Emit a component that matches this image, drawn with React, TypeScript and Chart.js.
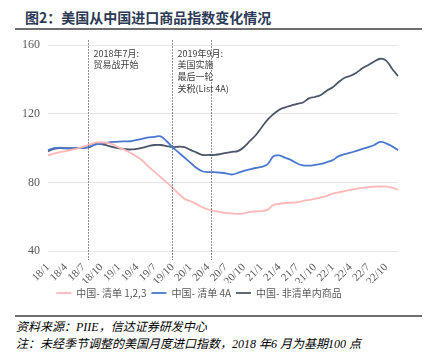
import React, { useEffect, useRef } from "react";
import { Chart, registerables } from "chart.js";

Chart.register(...registerables);

const years = ["18", "19", "20", "21", "22"];
const months = [1, 2, 3, 4, 5, 6, 7, 8, 9, 10, 11, 12];
const categories: string[] = years.flatMap((y) => months.map((m) => `${y}/${m}`));

const list123 = [
  95.7, 96.8, 97.6, 98.2, 99, 99.8, 100.8, 102, 103.2, 103.4, 103, 102,
  100.2, 98.8, 97, 95, 92.5, 89, 86, 83, 80, 77, 73.5, 70.5,
  69, 67.5, 65.5, 64.2, 63.4, 62.7, 62.2, 61.9, 61.6, 62, 62.8, 63.1,
  63.3, 64, 66.9, 67.5, 68, 68.2, 68.4, 69.2, 69.8, 70.4, 71.2, 72.2,
  73.4, 74.2, 74.9, 75.7, 76.3, 76.8, 77.3, 77.5, 77.6, 77.5, 76.9, 75.7,
];
const list4A = [
  98.8, 100, 100.3, 100, 100, 100, 100, 101, 102, 102.6, 103.2, 103.6,
  103.8, 103.9, 104, 104.8, 105.5, 106.2, 106.6, 106.8, 104, 100.5, 97.5, 94.5,
  91.5, 88.5, 86.5, 86, 86, 85.7, 85.3, 84.6, 85.5, 86.7, 87.6, 88.4,
  89, 90.5, 95.3, 95.7, 94.3, 93, 91, 89.9, 89.8, 90.2, 90.8, 91.8,
  93, 95.3, 96.5, 97.3, 98.4, 99.5, 100.6, 101.8, 103.6, 102.8, 101, 98.8,
];
const nonList = [
  98.2, 99.5, 100, 99.8, 99.8, 100, 100.2, 100.5, 102.5, 102.3, 101.5, 100.5,
  99.8, 99.4, 99.2, 99.6, 100.3, 101.2, 101.8, 101.8, 101.2, 100.6, 100.8, 100.6,
  99, 97.5, 96, 96, 96, 96.5, 97.2, 97.8, 98.2, 100.5, 104, 107.5,
  112, 116.5, 119.8, 122.4, 123.8, 124.8, 125.8, 126.6, 129, 129.8, 131, 133.5,
  135.5, 138.5, 141, 142.2, 144, 146.5, 148.5, 150.5, 152.1, 151, 146.3, 142,
];

const seriesNames = ["中国- 清单 1,2,3", "中国- 清单 4A", "中国- 非清单内商品"];
const seriesColors = ["#FFB7B7", "#4A78D0", "#4B5668"];

// event markers (category index positions) and their notes
const eventPositions = [6.7, 20.9, 27.5];
const eventNotes: string[][] = [
  ["2018年7月:", "贸易战开始"],
  ["2019年9月:", "美国实施", "最后一轮", "关税(List 4A)"],
  [],
];

const yTicks = [40, 80, 120, 160];

const eventPlugin = {
  id: "events",
  afterDatasetsDraw(chart: any) {
    const { ctx, chartArea, scales } = chart;
    ctx.save();
    eventPositions.forEach((pos, i) => {
      const x = Math.round(scales.x.getPixelForValue(pos)) + 0.5;
      ctx.beginPath();
      ctx.setLineDash([1.5, 1.5]);
      ctx.strokeStyle = "#6b6b6b";
      ctx.lineWidth = 1;
      ctx.moveTo(x, chartArea.top - 5);
      ctx.lineTo(x, chartArea.bottom + 9);
      ctx.stroke();
      ctx.setLineDash([]);
      ctx.fillStyle = "#404040";
      ctx.font = '9px "Noto Sans CJK SC"';
      ctx.textBaseline = "middle";
      ctx.textAlign = "left";
      eventNotes[i].forEach((line, j) => {
        ctx.fillText(line, x + 5, chartArea.top + 8 + j * 11.8);
      });
    });
    ctx.restore();
  },
};

function ChartView() {
  const ref = useRef<HTMLCanvasElement>(null);
  useEffect(() => {
    if (!ref.current) return;
    const data = [list123, list4A, nonList];
    const chart = new Chart(ref.current, {
      type: "line",
      data: {
        labels: categories,
        datasets: seriesNames.map((name, i) => ({
          label: name,
          data: data[i],
          borderColor: seriesColors[i],
          backgroundColor: seriesColors[i],
          borderWidth: 1.8,
          pointRadius: 0,
          tension: 0.35,
          fill: false,
        })),
      },
      options: {
        animation: false,
        responsive: false,
        maintainAspectRatio: false,
        layout: { padding: { top: 8, right: 35, left: 0, bottom: 0 } },
        plugins: {
          tooltip: { enabled: false },
          legend: {
            position: "bottom",
            labels: {
              usePointStyle: true,
              pointStyle: "line",
              pointStyleWidth: 15,
              padding: 5,
              color: "#595959",
              font: { family: '"Noto Sans CJK SC"', size: 10 },
            },
          },
        },
        scales: {
          x: {
            grid: { display: false },
            border: { display: false },
            afterFit: (s: any) => {
              s.height = 32;
            },
            ticks: {
              autoSkip: false,
              minRotation: 45,
              maxRotation: 45,
              padding: 2,
              color: "#595959",
              font: { family: '"Liberation Serif", serif', size: 11 },
              callback: (v: any, i: number) => (i % 3 === 0 ? categories[i] : null),
            },
          },
          y: {
            min: 40,
            max: 160,
            afterFit: (s: any) => {
              s.width = 48;
            },
            afterBuildTicks: (s: any) => {
              s.ticks = yTicks.map((v) => ({ value: v }));
            },
            grid: { color: "#e6e6e6", drawTicks: false, lineWidth: 1 },
            border: { display: false },
            ticks: {
              padding: 8,
              color: "#595959",
              font: { family: '"Liberation Serif", serif', size: 12 },
            },
          },
        },
      },
      plugins: [eventPlugin],
    });
    return () => chart.destroy();
  }, []);
  return <canvas ref={ref} width={433} height={278} style={{ position: "absolute", left: 0, top: 30 }} />;
}

export default function App() {
  return (
    <div style={{ position: "absolute", left: 0, top: 0, width: 433, height: 353, background: "#fff", overflow: "hidden" }}>
      <div
        style={{
          position: "absolute",
          left: 25,
          top: 7,
          fontFamily: '"Noto Sans CJK SC", sans-serif',
          fontWeight: 700,
          fontSize: 14,
          color: "#2c3a55",
          whiteSpace: "nowrap",
          lineHeight: "20px",
        }}
      >
        图2：美国从中国进口商品指数变化情况
      </div>
      <div style={{ position: "absolute", left: 15, top: 28, width: 407, height: 2, background: "#6e6e6e" }} />
      <ChartView />
      <div style={{ position: "absolute", left: 15, top: 315, width: 407, height: 2, background: "#6e6e6e" }} />
      <div
        style={{
          position: "absolute",
          left: 16,
          top: 319,
          fontFamily: '"Liberation Serif", "Noto Sans CJK SC", serif',
          fontStyle: "italic",
          fontSize: 12,
          lineHeight: "17px",
          color: "#000",
          whiteSpace: "nowrap",
        }}
      >
        <div>资料来源：PIIE，信达证券研发中心</div>
        <div>注：未经季节调整的美国月度进口指数，2018 年6 月为基期100 点</div>
      </div>
    </div>
  );
}
